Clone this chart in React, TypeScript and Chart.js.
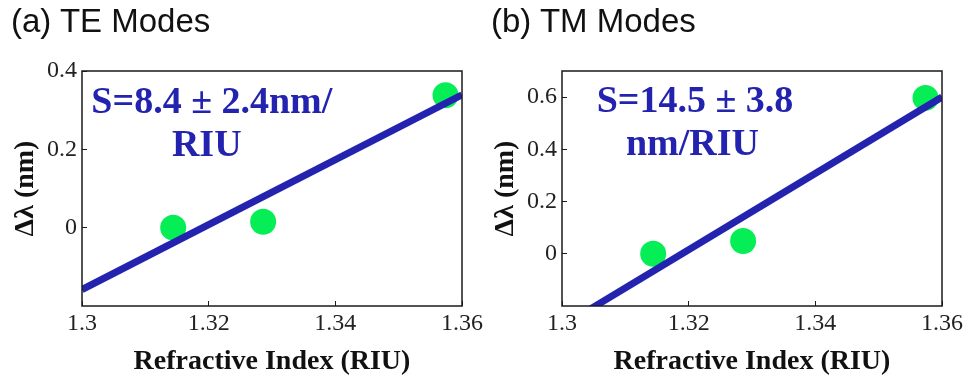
import React, { useEffect, useRef } from "react";
import { Chart, registerables } from "chart.js";

Chart.register(...registerables);

// ---- data ----
const refractiveIndex = [1.3144, 1.3286, 1.3574];
const teShift = [0.0, 0.015, 0.338];
const tmShift = [0.0, 0.049, 0.597];

const fitIndex = [1.3, 1.36];
const teFit = [-0.158, 0.339];
const tmFit = [-0.277, 0.6];

const xTicks = [1.3, 1.32, 1.34, 1.36];
const xTickLabels = ["1.3", "1.32", "1.34", "1.36"];
const teYTicks = [0, 0.2, 0.4];
const teYTickLabels = ["0", "0.2", "0.4"];
const tmYTicks = [0, 0.2, 0.4, 0.6];
const tmYTickLabels = ["0", "0.2", "0.4", "0.6"];

const teNoteLines = ["S=8.4 \u00b1 2.4nm/", "RIU"];
const tmNoteLines = ["S=14.5 \u00b1 3.8", "nm/RIU"];

const BLUE = "#2323b0";
const GREEN = "#05ee55";
const INK = "#1a1a1a";

type Note = { text: string; x: number; y: number };

type PanelCfg = {
  title: string;
  shift: number[];
  fit: number[];
  yMin: number;
  yMax: number;
  yTicks: number[];
  yTickLabels: string[];
  notes: Note[];
};

const W = 486;
const H = 381;

function Panel({ cfg, left }: { cfg: PanelCfg; left: number }) {
  const ref = useRef<HTMLCanvasElement | null>(null);
  useEffect(() => {
    if (!ref.current) return;
    const overlay = {
      id: "overlay",
      afterDatasetsDraw(chart: any) {
        const { ctx, chartArea, scales } = chart;
        ctx.save();
        ctx.font = "bold 38px 'Liberation Serif', 'Times New Roman', serif";
        ctx.fillStyle = BLUE;
        ctx.textAlign = "center";
        ctx.textBaseline = "alphabetic";
        cfg.notes.forEach((n) => {
          ctx.fillText(n.text, scales.x.getPixelForValue(n.x), scales.y.getPixelForValue(n.y));
        });
        ctx.strokeStyle = INK;
        ctx.lineWidth = 1.5;
        ctx.strokeRect(chartArea.left, chartArea.top, chartArea.right - chartArea.left, chartArea.bottom - chartArea.top);
        ctx.restore();
      },
    };
    const chart = new Chart(ref.current, {
      type: "scatter",
      data: {
        datasets: [
          {
            type: "line",
            data: fitIndex.map((x, i) => ({ x, y: cfg.fit[i] })),
            borderColor: BLUE,
            borderWidth: 7,
            pointRadius: 0,
            tension: 0,
            fill: false,
            order: 0,
          } as any,
          {
            type: "scatter",
            data: refractiveIndex.map((x, i) => ({ x, y: cfg.shift[i] })),
            backgroundColor: GREEN,
            borderWidth: 0,
            pointRadius: 13,
            pointHoverRadius: 13,
            order: 1,
          } as any,
        ],
      },
      options: {
        animation: false,
        responsive: false,
        events: [],
        layout: { padding: { top: 71, left: 0, right: W - 462, bottom: 0 } },
        plugins: { legend: { display: false }, tooltip: { enabled: false }, title: { display: false } },
        scales: {
          x: {
            type: "linear",
            min: 1.3,
            max: 1.36,
            afterBuildTicks: (s: any) => {
              s.ticks = xTicks.map((v) => ({ value: v }));
            },
            afterFit: (s: any) => {
              s.height = 75;
              s.paddingLeft = 0;
              s.paddingRight = 0;
            },
            ticks: {
              callback: (_v: any, i: number) => xTickLabels[i],
              font: { family: "'Liberation Serif', 'Times New Roman', serif", size: 24 },
              color: "#222",
              padding: 8.5,
              maxRotation: 0,
              autoSkip: false,
            },
            grid: { drawOnChartArea: false, drawTicks: true, tickLength: -5, color: INK, lineWidth: 1 },
            border: { display: false },
            title: {
              display: true,
              text: "Refractive Index (RIU)",
              color: "#111",
              font: { family: "'Liberation Serif', 'Times New Roman', serif", size: 28, weight: "bold", lineHeight: 1 },
              padding: { top: 0, bottom: 5 },
            },
          },
          y: {
            type: "linear",
            min: cfg.yMin,
            max: cfg.yMax,
            afterBuildTicks: (s: any) => {
              s.ticks = cfg.yTicks.map((v) => ({ value: v }));
            },
            afterFit: (s: any) => {
              s.width = 82;
              s.paddingTop = 0;
              s.paddingBottom = 0;
            },
            ticks: {
              callback: (_v: any, i: number) => cfg.yTickLabels[i],
              font: { family: "'Liberation Serif', 'Times New Roman', serif", size: 24 },
              color: "#222",
              padding: 10,
              autoSkip: false,
            },
            grid: { drawOnChartArea: false, drawTicks: true, tickLength: -5, color: INK, lineWidth: 1 },
            border: { display: false },
            title: {
              display: true,
              text: "\u0394\u03bb (nm)",
              color: "#111",
              font: { family: "'Liberation Serif', 'Times New Roman', serif", size: 28, weight: "bold", lineHeight: 1 },
              padding: { top: 12, bottom: 0 },
            },
          },
        },
      } as any,
      plugins: [overlay],
    });
    return () => chart.destroy();
  }, [cfg]);

  return (
    <div style={{ position: "absolute", left, top: 0, width: W, height: H }}>
      <canvas ref={ref} width={W} height={H} style={{ display: "block", width: W, height: H }} />
      <div
        style={{
          position: "absolute",
          left: 11,
          top: 4,
          fontFamily: "'Liberation Sans', Arial, sans-serif",
          fontSize: 33,
          lineHeight: "33px",
          color: "#111",
          whiteSpace: "nowrap",
        }}
      >
        {cfg.title}
      </div>
    </div>
  );
}

const teCfg: PanelCfg = {
  title: "(a) TE Modes",
  shift: teShift,
  fit: teFit,
  yMin: -0.2,
  yMax: 0.4,
  yTicks: teYTicks,
  yTickLabels: teYTickLabels,
  notes: [
    { text: teNoteLines[0], x: 1.3205, y: 0.292 },
    { text: teNoteLines[1], x: 1.3197, y: 0.182 },
  ],
};

const tmCfg: PanelCfg = {
  title: "(b) TM Modes",
  shift: tmShift,
  fit: tmFit,
  yMin: -0.2,
  yMax: 0.7,
  yTicks: tmYTicks,
  yTickLabels: tmYTickLabels,
  notes: [
    { text: tmNoteLines[0], x: 1.321, y: 0.543 },
    { text: tmNoteLines[1], x: 1.3206, y: 0.377 },
  ],
};

export default function App() {
  return (
    <div style={{ position: "fixed", left: 0, top: 0, width: 966, height: 381, background: "#fff", overflow: "hidden" }}>
      <Panel cfg={teCfg} left={0} />
      <Panel cfg={tmCfg} left={480} />
    </div>
  );
}
